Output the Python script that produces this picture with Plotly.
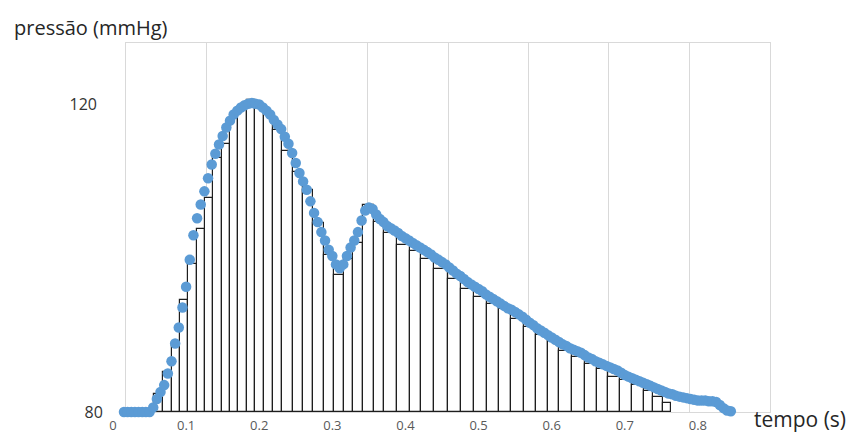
import plotly.graph_objects as go

# ---- data ----
# pressure curve (blue dots), time in s, pressure in mmHg
curve_t = [round(0.015 + 0.005 * i, 3) for i in range(167)]
curve_p = [
    80.0, 80.0, 80.0, 80.0, 80.0, 80.0, 80.0, 80.0, 80.6, 81.7,
    82.6, 83.5, 85.0, 86.6, 88.9, 91.0, 93.6, 96.3, 99.8, 103.0,
    105.2, 107.0, 108.7, 110.4, 112.2, 113.6, 114.8, 115.9, 117.0, 117.9,
    118.7, 119.2, 119.6, 119.9, 120.1, 120.2, 120.1, 120.0, 119.6, 119.2,
    118.7, 118.0, 117.4, 116.8, 115.8, 114.9, 113.7, 112.4, 111.1, 110.0,
    108.9, 107.4, 105.9, 104.7, 103.4, 102.3, 101.1, 100.3, 99.2, 98.7,
    99.2, 100.3, 101.4, 102.3, 103.4, 104.9, 106.2, 106.6, 106.4, 105.7,
    105.1, 104.7, 104.2, 103.9, 103.6, 103.3, 102.9, 102.6, 102.3, 102.0,
    101.7, 101.4, 101.1, 100.8, 100.5, 100.1, 99.8, 99.5, 99.2, 98.8,
    98.4, 98.0, 97.7, 97.3, 96.9, 96.6, 96.3, 96.0, 95.7, 95.3,
    95.0, 94.7, 94.4, 94.1, 93.8, 93.5, 93.3, 93.0, 92.7, 92.4,
    92.0, 91.6, 91.3, 90.9, 90.6, 90.3, 90.0, 89.7, 89.4, 89.1,
    88.8, 88.6, 88.3, 88.1, 87.9, 87.7, 87.4, 87.1, 86.9, 86.6,
    86.4, 86.2, 86.0, 85.8, 85.6, 85.4, 85.1, 84.8, 84.6, 84.4,
    84.2, 84.0, 83.8, 83.6, 83.4, 83.2, 83.0, 82.8, 82.6, 82.4,
    82.3, 82.1, 82.0, 81.9, 81.8, 81.7, 81.6, 81.5, 81.5, 81.5,
    81.4, 81.4, 81.3, 80.9, 80.5, 80.2, 80.1,
]

# rectangles (bar) edges in s and heights in mmHg
bar_edges = [
    0.0562, 0.0689, 0.0804, 0.0918, 0.1032, 0.1147, 0.1260, 0.1374, 0.1489, 0.1603,
    0.1716, 0.1832, 0.1945, 0.2059, 0.2182, 0.2311, 0.2456, 0.2599, 0.2736, 0.2881,
    0.3018, 0.3155, 0.3284, 0.3421, 0.3566, 0.3703, 0.3890, 0.4059, 0.4215, 0.4388,
    0.4575, 0.4753, 0.4936, 0.5114, 0.5278, 0.5445, 0.5621, 0.5788, 0.5949, 0.6100,
    0.6284, 0.6456, 0.6626, 0.6777, 0.6936, 0.7105, 0.7264, 0.7392, 0.7516, 0.7630,
]
bar_heights = [
    82.35, 85.21, 88.99, 94.59, 99.28, 103.84, 107.88, 113.09, 114.92, 118.05,
    119.74, 120.65, 120.0, 118.83, 116.74, 114.01, 111.27, 108.93, 104.56, 100.46,
    97.85, 99.90, 101.93, 106.97, 104.66, 103.28, 101.76, 100.89, 99.90, 98.59,
    97.29, 95.99, 94.98, 94.11, 93.38, 92.08, 91.07, 90.03, 89.25, 87.95,
    87.17, 86.21, 85.54, 84.60, 84.10, 83.52, 82.67, 81.99, 81.13,
]
base_p = 80

x_tick_vals = [0, 0.1, 0.2, 0.3, 0.4, 0.5, 0.6, 0.7, 0.8]
x_tick_text = ["0", "0.1", "0.2", "0.3", "0.4", "0.5", "0.6", "0.7", "0.8"]

bar_centers = [(a + b) / 2 for a, b in zip(bar_edges[:-1], bar_edges[1:])]
bar_widths = [b - a for a, b in zip(bar_edges[:-1], bar_edges[1:])]
bar_len = [h - base_p for h in bar_heights]

FONT = "Open Sans"
fig = go.Figure()

# empty trace to create the grid subplot (x/y)
fig.add_trace(go.Scatter(x=[], y=[], xaxis="x", yaxis="y", showlegend=False, hoverinfo="skip"))

fig.add_trace(go.Scatter(
    x=curve_t, y=curve_p, mode="markers", xaxis="x2", yaxis="y2",
    marker=dict(size=10.5, color="#5B9BD5", line=dict(width=0)),
    showlegend=False, cliponaxis=False,
))
fig.add_trace(go.Bar(
    x=bar_centers, y=bar_len, base=base_p, width=bar_widths,
    xaxis="x2", yaxis="y2",
    marker=dict(color="white", line=dict(color="#1e1e1e", width=1.2)),
    showlegend=False,
))

fig.update_layout(
    width=848, height=436,
    margin=dict(l=113, r=78, t=43, b=24, autoexpand=False),
    paper_bgcolor="white", plot_bgcolor="rgba(0,0,0,0)",
    font=dict(family=FONT, color="#333333"),
    bargap=0,
    # grid axes
    xaxis=dict(domain=[0.0198, 1], range=[0, 8], dtick=1, showgrid=True,
               gridcolor="#d9d9d9", gridwidth=1, showticklabels=False, ticks="",
               zeroline=False, showline=True, mirror=True, linecolor="#d9d9d9",
               linewidth=1, anchor="y", fixedrange=True, automargin=False),
    yaxis=dict(domain=[0, 1], range=[80, 128], dtick=8, showgrid=True,
               gridcolor="#d9d9d9", gridwidth=1, zeroline=False, showline=True,
               mirror=True, linecolor="#d9d9d9", linewidth=1, anchor="x",
               tickmode="array", tickvals=[80], ticktext=["80"], ticks="",
               ticklabelstandoff=19, tickfont=dict(size=16, color="#333333"),
               automargin=False),
    # data axes
    xaxis2=dict(domain=[0, 1], range=[0, 0.8986], anchor="y2", showgrid=False,
                zeroline=False, showline=False, tickmode="array",
                tickvals=x_tick_vals, ticktext=x_tick_text, ticks="",
                ticklabelstandoff=4, tickfont=dict(size=13, color="#595959"),
                automargin=False),
    yaxis2=dict(domain=[0, 1], range=[80, 128], anchor="x2", showgrid=False,
                zeroline=False, showline=False, tickmode="array",
                tickvals=[120], ticktext=["120"], ticks="",
                ticklabelstandoff=15, tickfont=dict(size=16, color="#333333"),
                automargin=False),
    annotations=[
        dict(text="pressão (mmHg)", xref="paper", yref="paper",
             x=-0.1537, y=1.043, xanchor="left", yanchor="middle",
             showarrow=False, font=dict(size=20, color="#262626", family=FONT)),
        dict(text="tempo (s)", xref="paper", yref="paper",
             x=0.9726, y=-0.019, xanchor="left", yanchor="middle",
             showarrow=False, font=dict(size=21, color="#262626", family=FONT)),
    ],
)

fig.write_html("out.html")
